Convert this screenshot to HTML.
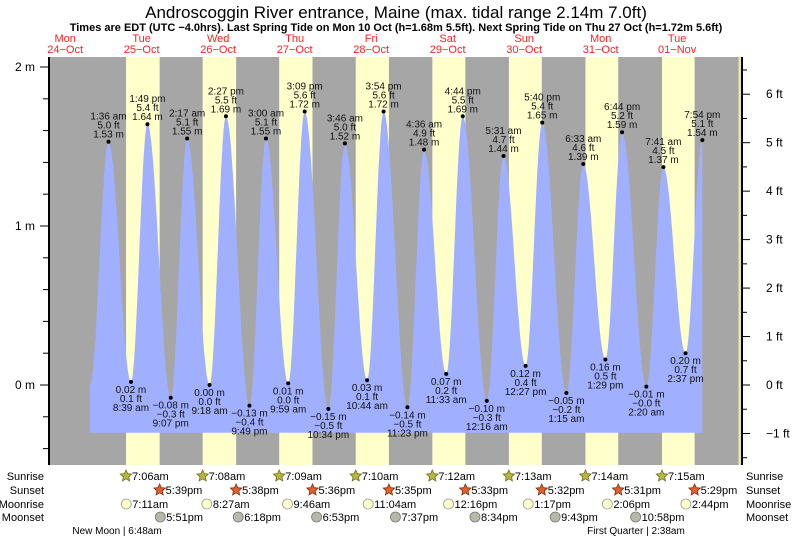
<!DOCTYPE html>
<html><head><meta charset="utf-8"><style>
body{margin:0;background:#fff;}
svg{display:block;font-family:"Liberation Sans",sans-serif;}
</style></head><body>
<svg id="c" width="793" height="539" viewBox="0 0 793 539" xmlns="http://www.w3.org/2000/svg">
<text x="396" y="18" font-size="17" text-anchor="middle" fill="#000">Androscoggin River entrance, Maine (max. tidal range 2.14m 7.0ft)</text>
<text x="396" y="31" font-size="11" font-weight="bold" text-anchor="middle" fill="#000">Times are EDT (UTC −4.0hrs). Last Spring Tide on Mon 10 Oct (h=1.68m 5.5ft). Next Spring Tide on Thu 27 Oct (h=1.72m 5.6ft)</text>
<g id="plot"></g>
</svg>
<script>
// Tide extremes: hours since Mon 24-Oct 00:00 EDT, heights in m, labels
const tideHours = [19.8,25.6,32.65,37.82,45.12,50.28,57.3,62.45,69.82,75,81.98,87.15,94.57,99.77,106.73,111.9,119.38,124.6,131.55,136.73,144.27,149.52,156.45,161.67,169.25,174.55,181.48,186.73,194.33,199.68,206.62,211.9];
const tideHeights = [0.0,1.53,0.02,1.64,-0.08,1.55,0.00,1.69,-0.13,1.55,0.01,1.72,-0.15,1.52,0.03,1.72,-0.14,1.48,0.07,1.69,-0.10,1.44,0.12,1.65,-0.05,1.39,0.16,1.59,-0.01,1.37,0.20,1.54];
const tideTimes = ["","1:36 am","8:39 am","1:49 pm","9:07 pm","2:17 am","9:18 am","2:27 pm","9:49 pm","3:00 am","9:59 am","3:09 pm","10:34 pm","3:46 am","10:44 am","3:54 pm","11:23 pm","4:36 am","11:33 am","4:44 pm","12:16 am","5:31 am","12:27 pm","5:40 pm","1:15 am","6:33 am","1:29 pm","6:44 pm","2:20 am","7:41 am","2:37 pm","7:54 pm"];
const tideFt = ["","5.0","0.1","5.4","−0.3","5.1","0.0","5.5","−0.4","5.1","0.0","5.6","−0.5","5.0","0.1","5.6","−0.5","4.9","0.2","5.5","−0.3","4.7","0.4","5.4","−0.2","4.6","0.5","5.2","−0.0","4.5","0.7","5.1"];
const dayNames = ["Mon","Tue","Wed","Thu","Fri","Sat","Sun","Mon","Tue"];
const dayDates = ["24−Oct","25−Oct","26−Oct","27−Oct","28−Oct","29−Oct","30−Oct","31−Oct","01−Nov"];
const sunrise = ["7:06am","7:08am","7:09am","7:10am","7:12am","7:13am","7:14am","7:15am"];
const sunriseH = [7.1,7.133,7.15,7.167,7.2,7.217,7.233,7.25];
const sunset = ["5:39pm","5:38pm","5:36pm","5:35pm","5:33pm","5:32pm","5:31pm","5:29pm"];
const sunsetH = [17.65,17.633,17.6,17.583,17.55,17.533,17.517,17.483];
const moonrise = ["7:11am","8:27am","9:46am","11:04am","12:16pm","1:17pm","2:06pm","2:44pm"];
const moonriseH = [7.18,8.45,9.77,11.07,12.27,13.28,14.1,14.73];
const moonset = ["5:51pm","6:18pm","6:53pm","7:37pm","8:34pm","9:43pm","10:58pm"];
const moonsetH = [17.85,18.3,18.88,19.62,20.57,21.72,22.97];
const mTicks = [0,1,2];
const ftTicks = [-1,0,1,2,3,4,5,6];

const NS="http://www.w3.org/2000/svg";
const L=49,R=741,T=57,B=465;
const X=h=>26.9+h*3.1875;
const Y=m=>385-m*159;
const g=document.getElementById('plot');
function mk(tag,attrs,parent){const e=document.createElementNS(NS,tag);for(const k in attrs)e.setAttribute(k,attrs[k]);(parent||g).appendChild(e);return e;}
function tx(x,y,s,attrs){const e=mk('text',Object.assign({x:x,y:y,'font-size':10,fill:'#000'},attrs||{}));e.textContent=s;return e;}

// background night
const bg=mk('rect',{x:L,y:T,width:R-L,height:B-T,fill:'#a6a6a6'});


// day bands
for(let i=0;i<sunriseH.length;i++){
  const d=i+1;
  const x1=X(d*24+sunriseH[i]),x2=Math.min(X(d*24+sunsetH[i]),R-3);
  const r=mk('rect',{x:x1,y:T,width:x2-x1,height:B-T,fill:'#ffffcc'});
  
  
}
// tide curve fill
let dpath='M'+X(tideHours[0]).toFixed(1)+','+Y(-0.3);
dpath+=' L'+X(tideHours[0]).toFixed(1)+','+Y(tideHeights[0]).toFixed(1);
for(let i=0;i<tideHours.length-1;i++){
  const h0=tideHours[i],h1=tideHours[i+1],a=tideHeights[i],b=tideHeights[i+1];
  for(let s=1;s<=20;s++){const t=s/20;const v=a+(b-a)*(1-Math.cos(Math.PI*t))/2;dpath+=' L'+X(h0+(h1-h0)*t).toFixed(1)+','+Y(v).toFixed(1);}
}
dpath+=' L'+X(tideHours[tideHours.length-1]).toFixed(1)+','+Y(-0.3)+' Z';
const area=mk('path',{d:dpath,fill:'#a0b0ff'});


// extremes
for(let i=1;i<tideHours.length;i++){
  const x=X(tideHours[i]),y=Y(tideHeights[i]);
  const hi=tideHeights[i]>0.7;
  const dot=mk('circle',{cx:x,cy:y,r:2,fill:'#000'});
  
  
  const m=(tideHeights[i]<0?'−':'')+Math.abs(tideHeights[i]).toFixed(2)+' m';
  const lines=hi?[[tideTimes[i],-22],[tideFt[i]+' ft',-13],[m,-4]]:[[m,11],[tideFt[i]+' ft',20],[tideTimes[i],29]];
  lines.forEach(l=>{const t=tx(x,y+l[1],l[0],{'text-anchor':'middle','fill':'#111'});
    
    });
}
// axes
const la=mk('line',{x1:L,y1:T,x2:L,y2:B,stroke:'#000','stroke-width':2});


mk('line',{x1:R-1,y1:T,x2:R-1,y2:B,stroke:'#e8e8a0','stroke-width':3});
const ra=mk('line',{x1:R+1,y1:T,x2:R+1,y2:B,stroke:'#000','stroke-width':2});


for(let v=-0.4;v<=2.01;v+=0.2){const y=Y(v);if(y<T||y>B)continue;mk('line',{x1:L-6,y1:y,x2:L,y2:y,stroke:'#000'});}
mTicks.forEach(v=>{const y=Y(v);mk('line',{x1:L-9,y1:y,x2:L,y2:y,stroke:'#000'});
  const t=tx(35,y+4,v+' m',{'font-size':12,'text-anchor':'end'});
  
  });
for(let f=-1.5;f<=6.6;f+=0.5){const y=Y(f*0.3048);if(y<T||y>B)continue;mk('line',{x1:R+1,y1:y,x2:R+(Number.isInteger(f)?9:6),y2:y,stroke:'#000'});}
ftTicks.forEach(f=>{const y=Y(f*0.3048);
  const t=tx(766,y+4,(f<0?'−'+(-f):f)+' ft',{'font-size':12});
  
  });
// day labels
dayNames.forEach((n,i)=>{const x=X(i*24+12);
  const a=tx(x,42,n,{'font-size':11,'text-anchor':'middle',fill:'#ff2020'});
  
  
  const b=tx(x,53,dayDates[i],{'font-size':11,'text-anchor':'middle',fill:'#ff2020'});
  
  });
// row labels
[['Sunrise',480],['Sunset',494],['Moonrise',508],['Moonset',521]].forEach(r=>{
  const a=tx(44,r[1],r[0],{'font-size':11,'text-anchor':'end'});
  
  
  const b=tx(746,r[1],r[0],{'font-size':11});
  
  });
function star(cx,cy,fill,stroke){let p='';for(let k=0;k<10;k++){const r=k%2?2.8:6;const a=-Math.PI/2+k*Math.PI/5;p+=(k?'L':'M')+(cx+r*Math.cos(a)).toFixed(1)+','+(cy+r*Math.sin(a)).toFixed(1);}return mk('path',{d:p+'Z',fill:fill,stroke:stroke,'stroke-width':0.8});}
sunrise.forEach((s,i)=>{const x=X((i+1)*24+sunriseH[i]);
  const st=star(x,476,'#b8b840','#707020');
  
  
  const t=tx(x+6,480,s,{'font-size':11});
  
  });
sunset.forEach((s,i)=>{const x=X((i+1)*24+sunsetH[i]);
  const st=star(x,490,'#e06030','#803010');
  
  
  const t=tx(x+6,494,s,{'font-size':11});
  
  });
moonrise.forEach((s,i)=>{const x=X((i+1)*24+moonriseH[i]);
  const c=mk('circle',{cx:x,cy:504,r:5,fill:'#ffffcc',stroke:'#999','stroke-width':0.8});
  
  
  const t=tx(x+6,508,s,{'font-size':11});
  
  });
moonset.forEach((s,i)=>{const x=X((i+1)*24+moonsetH[i]);
  const c=mk('circle',{cx:x,cy:517,r:5,fill:'#b8b8a8',stroke:'#777','stroke-width':0.8});
  
  
  const t=tx(x+6,521,s,{'font-size':11});
  
  });
const nm=tx(117,534,'New Moon | 6:48am',{'font-size':10,'text-anchor':'middle'});


const fq=tx(636,534,'First Quarter | 2:38am',{'font-size':10,'text-anchor':'middle'});


</script>
</body></html>
